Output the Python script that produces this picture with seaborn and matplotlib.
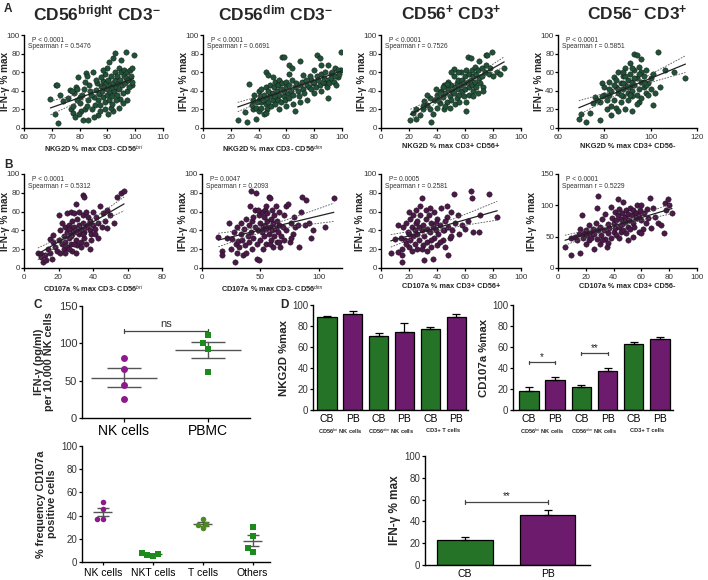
import numpy as np
import pandas as pd
import matplotlib
matplotlib.use("Agg")
import matplotlib.pyplot as plt
import matplotlib.transforms as mtransforms
import seaborn as sns

W, H = 708, 580
GREEN = "#17801a"
PURPLE = "#7a0f7a"
DOT_A = "#1f5237"
DOT_B = "#4c1749"

# ---- Panel A: NKG2D % max vs IFN-g % max (x, y) ----
a_bri = [(69.5,31),(71,15),(71.4,46.5),(72,46.5),(72.3,5.5),(72.9,36),(73.9,29),(76.7,41),(77,20),(77.7,24),
         (77.5,16),(78.7,44),(79.5,55),(80,33),(82,49),(82.3,59),(82.8,56),(81.3,9),(83,9),(83.7,40),(85,33),
         (85.5,25),(86.7,14),(87.3,18),(87.8,45),(88.4,51),(89.3,58),(89.8,65),(90.4,71),(92,75),(92.8,81),
         (95,73),(96.7,82),(99.4,79),(97,40),(99,46.5),(94.6,31),(92,18),(91.2,22),(78,38),(79,30),(80,27),
         (81,36),(80.5,18),(79.8,15),(78.2,12),(76,32),(77.3,40),(79,42),(81.5,42),(83,30),(84,36),(84.5,20),
         (85.8,41),(86.2,48),(86.5,30),(87,37),(87.5,25),(88,40),(88.3,33),(88.8,44),(89,28),(89.5,48),
         (89.7,36),(90,42),(90.2,52),(90.5,30),(90.8,46),(91,39),(91.3,56),(91.5,44),(91.8,34),(92.1,48),
         (92.4,40),(92.6,60),(92.9,52),(93.1,44),(93.4,36),(93.6,56),(93.9,48),(94.1,64),(94.3,42),(94.6,52),
         (94.9,60),(95.2,46),(95.5,38),(95.8,56),(96,62),(96.3,48),(96.6,54),(96.9,30),(97.2,60),(97.5,52),
         (97.8,44),(98.1,62),(98.4,56),(98.7,50),(99,64),(88.5,62),(89.2,20),(90.1,15),(87.6,55),(86,52),
         (84.8,60),(83.5,46),(82,20),(82.6,24),(85.2,12),(93.2,30),(95.7,27),(91.6,26),(94,22)]
a_dim = [(25,9),(32,6),(30,17),(33,47),(38,10),(36,20),(40,30),(42,28),(45,60),(47,57),(48,38),(52,50),(55,52),
         (57,76),(58,76),(62,68),(64,64),(66,18),(70,72),(72,57),(75,30),(78,52),(80,62),(82,79),(84,75),(85,68),
         (88,48),(90,32),(90,68),(92,58),(95,65),(99,82),(99,62),(97,55),(35,25),(36,30),(37,35),(38,22),(39,28),
         (40,40),(40,18),(41,34),(42,42),(42,22),(43,30),(44,36),(44,15),(45,26),(45,44),(46,32),(46,20),(47,40),
         (47,28),(48,34),(48,46),(49,24),(50,38),(50,30),(51,44),(52,34),(52,26),(53,40),(54,46),(54,30),(55,36),
         (56,42),(56,28),(57,48),(58,34),(58,40),(59,30),(60,44),(60,50),(61,38),(62,32),(62,46),(63,40),(64,52),
         (65,36),(66,44),(67,48),(68,40),(69,34),(70,46),(71,50),(72,42),(73,38),(74,52),(75,46),(76,44),(77,56),
         (78,42),(79,48),(80,50),(81,44),(82,56),(83,52),(84,46),(85,58),(86,50),(87,54),(88,60),(89,44),(90,52),
         (91,48),(92,54),(93,60),(94,50),(95,56),(96,46),(97,62),(98,58),(85,40),(80,38),(62,58),(50,55),(45,16),
         (55,20),(60,24),(70,28),(65,26)]
a_pos = [(21,9),(23,16),(25,10),(25,20),(30,20),(31,29),(33,25),(35,20),(36,6),(37,15),(38,30),(40,22),(40,36),
         (42,27),(43,40),(44,33),(45,20),(45,46),(46,38),(47,28),(48,42),(48,50),(49,34),(50,30),(50,46),(51,40),
         (52,56),(52,38),(53,44),(54,48),(54,32),(55,52),(55,42),(56,36),(57,60),(57,46),(58,40),(58,52),(59,48),
         (60,56),(60,42),(61,18),(61,62),(62,50),(62,76),(63,44),(63,58),(64,75),(64,52),(65,62),(65,46),(66,56),
         (66,40),(67,66),(67,50),(68,58),(68,44),(69,62),(70,54),(70,72),(71,48),(72,65),(72,56),(73,44),(73,40),
         (74,60),(75,78),(76,78),(75,68),(77,58),(78,64),(79,82),(80,56),(83,60),(85,58),(88,64),(55,60),(52,63),
         (50,60),(47,47),(44,44),(42,38),(39,42),(41,30),(46,24),(49,22),(53,26),(56,28),(59,34),(35,32),(33,36),
         (30,24),(28,14),(63,36),(66,34),(69,38),(61,28)]
a_neg = [(69,10),(70,15),(72,6),(74,16),(75,27),(76,33),(78,9),(78,28),(79,48),(80,44),(81,20),(82,36),(82,50),
         (83,14),(83,40),(84,30),(84,55),(85,22),(85,44),(86,38),(86,60),(87,28),(87,48),(88,42),(88,34),(88,56),
         (89,20),(89,46),(89,64),(90,38),(90,52),(90,30),(91,44),(91,58),(91,70),(92,18),(92,50),(92,40),(93,62),
         (93,80),(93,46),(94,36),(94,54),(94,78),(95,42),(95,66),(95,28),(96,50),(96,60),(96,74),(97,44),(97,56),
         (98,38),(98,62),(99,48),(100,54),(100,42),(101,58),(101,25),(102,38),(103,82),(104,44),(106,62),(110,60),
         (115,54),(80,36),(81,30),(83,24),(86,18),(87,36),(84,46),(85,52),(88,48),(90,44),(92,34),(94,26),(96,32),
         (98,46),(86,42),(82,42),(79,34),(77,30),(91,36),(93,54),(97,50),(99,36),(95,58),(89,56),(92,64),(88,60)]

# ---- Panel B: CD107a % max vs IFN-g % max (x, y) ----
b_bri = [(8,16),(10,15),(10,12),(11,6),(12,14),(13,9),(14,20),(15,31),(15,16),(16,10),(17,28),(17,35),(18,22),
         (19,18),(20,56),(20,30),(21,16),(21,40),(22,26),(22,48),(23,34),(23,20),(24,44),(24,28),(25,38),(25,58),
         (25,22),(26,46),(26,32),(27,40),(27,60),(27,26),(28,50),(28,36),(28,18),(29,44),(29,58),(30,30),(30,40),
         (30,68),(31,52),(31,24),(32,46),(32,36),(32,60),(33,42),(33,28),(34,56),(34,78),(34,48),(35,76),(35,38),
         (35,32),(36,60),(36,44),(37,54),(38,40),(38,50),(39,30),(40,46),(40,60),(41,42),(42,54),(43,48),(44,66),
         (45,44),(46,58),(47,50),(48,43),(48,62),(50,56),(52,48),(54,76),(56,80),(58,82),(24,16),(26,20),(30,16),
         (33,22),(36,26),(38,20),(27,34),(31,38),(29,26),(26,42),(34,36),(37,46),(39,36),(41,36),(43,32)]
b_dim = [(14,33),(17,18),(17,14),(21,32),(23,48),(25,20),(26,31),(27,38),(28,6),(29,26),(30,16),(30,44),(31,29),
         (32,22),(33,48),(33,36),(34,30),(35,14),(36,42),(37,24),(38,52),(38,16),(39,34),(40,46),(40,28),(41,66),
         (42,38),(42,82),(43,50),(43,20),(44,32),(45,44),(45,62),(46,80),(47,26),(47,10),(48,40),(49,9),(49,56),
         (50,48),(50,30),(51,60),(51,38),(52,44),(52,20),(53,54),(53,34),(54,46),(54,62),(55,26),(55,42),(56,50),
         (56,58),(57,36),(57,76),(58,44),(58,74),(59,30),(59,52),(60,40),(60,62),(61,48),(61,22),(62,34),(62,56),
         (63,42),(63,66),(64,28),(64,50),(65,38),(66,46),(66,60),(67,22),(68,34),(69,44),(70,30),(70,56),(72,40),
         (72,66),(74,68),(75,28),(76,48),(78,36),(79,54),(80,44),(82,46),(83,22),(85,60),(86,76),(88,46),(89,72),
         (92,48),(93,32),(95,40),(105,44),(113,75),(76,32),(66,28),(55,66),(48,62),(44,54),(58,26)]
b_pos = [(7,16),(10,31),(12,17),(12,46),(14,32),(15,6),(15,20),(15,14),(16,44),(17,30),(18,48),(19,38),(20,60),
         (20,22),(21,30),(21,52),(22,44),(22,18),(23,56),(23,34),(24,40),(24,26),(25,48),(25,62),(26,36),(26,20),
         (27,44),(27,30),(28,56),(28,66),(29,75),(29,40),(30,46),(30,24),(31,34),(31,9),(32,52),(32,62),(33,28),
         (33,42),(34,56),(35,38),(35,64),(36,22),(36,48),(37,10),(37,44),(38,32),(38,60),(39,40),(40,24),(40,52),
         (41,36),(42,46),(43,64),(44,30),(45,40),(46,22),(47,54),(47,66),(48,14),(48,44),(49,32),(50,60),(51,40),
         (52,79),(53,48),(55,56),(56,36),(58,46),(60,42),(62,50),(64,82),(65,75),(66,38),(70,38),(71,56),(77,79),
         (83,54),(18,26),(20,36),(26,50),(29,20),(33,18),(36,30),(39,48),(42,28),(44,40),(46,50),(50,34)]
b_neg = [(5,34),(9,20),(9,48),(12,50),(14,44),(15,54),(16,24),(16,62),(17,84),(18,48),(19,56),(20,38),(20,60),
         (21,52),(22,44),(22,68),(23,56),(24,48),(25,62),(26,30),(26,54),(27,72),(28,46),(28,96),(29,115),(29,60),
         (30,38),(30,66),(31,52),(32,78),(33,60),(34,46),(34,86),(35,34),(36,70),(36,56),(37,64),(38,98),(38,48),
         (39,80),(40,58),(40,72),(41,90),(41,64),(42,76),(42,52),(43,110),(43,84),(44,66),(44,94),(45,58),(45,78),
         (46,88),(46,70),(47,60),(47,106),(48,82),(48,74),(49,92),(49,56),(50,66),(50,86),(51,76),(52,62),(52,96),
         (53,84),(54,72),(54,92),(55,66),(56,88),(56,80),(57,100),(58,58),(58,84),(59,92),(60,76),(60,100),(61,62),
         (62,88),(63,72),(64,94),(65,80),(66,112),(67,64),(68,96),(70,82),(72,72),(74,68),(76,56),(77,103),(78,92),
         (79,110),(80,100),(82,88),(32,44),(36,40),(44,48),(50,44),(54,50),(60,56)]

# ---- Panel C ----
c_groups = ["NK cells", "PBMC"]
c_nk = [81, 66, 44, 25]
c_pbmc = [111, 100, 93, 61]
f_groups = ["NK cells", "NKT cells", "T cells", "Others"]
f_nk = [52, 46, 37, 37]
f_nkt = [7, 5, 6, 8]
f_t = [37, 33, 29, 32]
f_oth = [30, 22, 9, 12]

# ---- Panel D ----
d_ticks = ["CB", "PB", "CB", "PB", "CB", "PB"]
d_groups = ["CD56$^{bri}$ NK cells", "CD56$^{dim}$ NK cells", "CD3+ T cells"]
nkg2d_mean = [88.3, 91.4, 70.5, 74.6, 77.1, 88.3]
nkg2d_sem = [1.0, 2.9, 2.5, 7.9, 1.9, 3.4]
cd107_mean = [18.4, 28.6, 22.2, 37.5, 62.9, 67.9]
cd107_sem = [3.2, 3.1, 1.3, 2.8, 2.1, 1.9]
ifn_groups = ["CB", "PB"]
ifn_mean = [23.2, 45.7]
ifn_sem = [2.1, 4.6]

sns.set_theme(style="ticks")
plt.rcParams["font.family"] = ["Liberation Sans", "DejaVu Sans"]
plt.rcParams.update({
    "mathtext.fontset": "custom",
    "mathtext.rm": "Liberation Sans",
    "mathtext.bf": "Liberation Sans:bold",
    "mathtext.it": "Liberation Sans:italic",
    "axes.linewidth": 1.0,
    "axes.edgecolor": "black",
    "xtick.major.size": 2.5, "ytick.major.size": 2.5,
    "xtick.major.width": 0.9, "ytick.major.width": 0.9,
    "xtick.major.pad": 1.5, "ytick.major.pad": 1.0,
    "xtick.color": "black", "ytick.color": "black",
    "xtick.labelcolor": "#333333", "ytick.labelcolor": "#333333",
})

fig = plt.figure(figsize=(W / 100, H / 100), dpi=100)


def box(l, t, r, b):
    # axes from pixel edges of the reference
    return fig.add_axes([l / W, 1 - b / H, (r - l) / W, (b - t) / H])


def scatter_panel(pos, pts, color, xlim, xticks, ylim, yticks, xlabel, ptxt, rtxt, ylab_x=-0.102):
    ax = box(*pos)
    df = pd.DataFrame(pts, columns=["x", "y"])
    sns.scatterplot(data=df, x="x", y="y", ax=ax, color=color, s=15,
                    edgecolor="#111111", linewidth=0.3, zorder=2)
    # linear fit with 95% confidence band
    x, y = df["x"].values, df["y"].values
    n = len(x)
    slope, icpt = np.polyfit(x, y, 1)
    xs = np.linspace(x.min(), x.max(), 60)
    fit = icpt + slope * xs
    s = np.sqrt(((y - (icpt + slope * x)) ** 2).sum() / (n - 2))
    se = s * np.sqrt(1 / n + (xs - x.mean()) ** 2 / ((x - x.mean()) ** 2).sum())
    ax.plot(xs, fit, color="#222222", lw=0.9, zorder=3)
    ax.plot(xs, fit + 1.97 * se, color="#555555", lw=0.6, ls=(0, (2, 1.5)), zorder=3)
    ax.plot(xs, fit - 1.97 * se, color="#555555", lw=0.6, ls=(0, (2, 1.5)), zorder=3)
    ax.set_xlim(*xlim)
    ax.set_ylim(*ylim)
    ax.set_xticks(xticks)
    ax.set_yticks(yticks)
    ax.tick_params(labelsize=5.8)
    ax.tick_params(axis="y", length=2, pad=0.8)
    ax.set_xlabel(xlabel, fontsize=5.3, fontweight="bold", labelpad=2)
    ax.set_ylabel("IFN-γ % max", fontsize=7.2, fontweight="bold")
    ax.yaxis.set_label_coords(ylab_x, 0.5)
    ax.text(0.06, 0.925, ptxt, transform=ax.transAxes, fontsize=4.8, color="#333333")
    ax.text(0.03, 0.855, rtxt, transform=ax.transAxes, fontsize=4.8, color="#333333")
    sns.despine(ax=ax)
    return ax


# Row A
scatter_panel((24, 35, 163, 128), a_bri, DOT_A, (60, 110), range(60, 111, 10), (0, 100), range(0, 101, 20),
              "NKG2D % max CD3- CD56$^{bri}$", "P < 0.0001", "Spearman r = 0.5476")
scatter_panel((203, 35, 342, 128), a_dim, DOT_A, (0, 100), range(0, 101, 20), (0, 100), range(0, 101, 20),
              "NKG2D % max CD3- CD56$^{dim}$", "P < 0.0001", "Spearman r = 0.6691")
scatter_panel((381, 35, 521, 128), a_pos, DOT_A, (0, 100), range(0, 101, 20), (0, 100), range(0, 101, 20),
              "NKG2D % max CD3+ CD56+", "P < 0.0001", "Spearman r = 0.7526")
scatter_panel((558, 35, 697, 128), a_neg, DOT_A, (60, 120), range(60, 121, 20), (0, 100), range(0, 101, 20),
              "NKG2D % max CD3+ CD56-", "P < 0.0001", "Spearman r = 0.5851")

# Row B
scatter_panel((24, 174, 162, 268), b_bri, DOT_B, (0, 80), range(0, 81, 20), (0, 100), range(0, 101, 20),
              "CD107a % max CD3- CD56$^{bri}$", "P < 0.0001", "Spearman r = 0.5312")
scatter_panel((202, 174, 342, 268), b_dim, DOT_B, (0, 120), [0, 50, 100], (0, 100), range(0, 101, 20),
              "CD107a % max CD3- CD56$^{dim}$", "P= 0.0047", "Spearman r = 0.2093")
scatter_panel((381, 174, 521, 268), b_pos, DOT_B, (0, 100), range(0, 101, 20), (0, 100), range(0, 101, 20),
              "CD107a % max CD3+ CD56+", "P= 0.0005", "Spearman r = 0.2581", ylab_x=-0.115)
scatter_panel((558, 174, 697, 268), b_neg, DOT_B, (0, 100), range(0, 101, 20), (0, 150), [0, 50, 100, 150],
              "CD107a % max CD3+ CD56-", "P < 0.0001", "Spearman r = 0.5229", ylab_x=-0.15)

# Column titles
titles = [(97, "CD56$^{\\mathbf{bright}}$ CD3$^{\\mathbf{-}}$"), (275, "CD56$^{\\mathbf{dim}}$ CD3$^{\\mathbf{-}}$"),
          (451, "CD56$^{\\mathbf{+}}$ CD3$^{\\mathbf{+}}$"), (637, "CD56$^{\\mathbf{-}}$ CD3$^{\\mathbf{+}}$")]
for xp, t in titles:
    fig.text(xp / W, 1 - 13 / H, t, fontsize=12.5, fontweight="bold", ha="center", va="center")

for lab, xp, yp in [("A", 4, 9), ("B", 4, 165), ("C", 34, 305), ("D", 280, 305)]:
    fig.text(xp / W, 1 - yp / H, lab, fontsize=8.5, fontweight="bold", ha="left", va="center")


def dot_panel(ax, groups, values, markers, colors, size, half, cap):
    rows = []
    for g, vals in zip(groups, values):
        for v in vals:
            rows.append((g, v))
    df = pd.DataFrame(rows, columns=["group", "value"])
    for g, m, c in zip(groups, markers, colors):
        sns.swarmplot(data=df[df["group"] == g], x="group", y="value", order=groups, ax=ax,
                      color=c, marker=m, size=size, linewidth=0, zorder=3)
    for i, vals in enumerate(values):
        mean = np.mean(vals)
        sem = np.std(vals, ddof=1) / np.sqrt(len(vals))
        ax.hlines(mean, i - half, i + half, color="#555555", lw=1.0, zorder=2)
        ax.errorbar(i, mean, yerr=sem, fmt="none", ecolor="#555555", elinewidth=1.0,
                    capsize=cap, capthick=1.0, zorder=2)
    ax.set_xlabel("")
    sns.despine(ax=ax)


# Panel C top
ax = box(82, 306, 250, 418)
dot_panel(ax, c_groups, [c_nk, c_pbmc], ["o", "s"], ["#8c1a8c", "#1c8a1c"], 5, 0.39, 12)
ax.set_xlim(-0.5, 1.5)
ax.set_ylim(0, 150)
ax.set_yticks([0, 50, 100, 150])
ax.tick_params(axis="y", labelsize=8)
ax.tick_params(axis="x", labelsize=10, length=3, labelcolor="black")
ax.set_ylabel("IFN-γ (pg/ml)\nper 10,000 NK cells", fontsize=7.8, fontweight="bold", labelpad=3,
              linespacing=1.1)
ax.plot([0, 1], [117, 117], color="#444444", lw=0.9)
ax.plot([0, 0], [114.5, 119.5], color="#444444", lw=0.9)
ax.plot([1, 1], [114.5, 119.5], color="#444444", lw=0.9)
ax.text(0.5, 119, "ns", ha="center", va="bottom", fontsize=8, color="#333333")

# Panel C bottom
ax = box(82, 446, 270, 562)
dot_panel(ax, f_groups, [f_nk, f_nkt, f_t, f_oth], ["o", "s", "o", "s"],
          ["#8c1a8c", "#1c8a1c", "#4e8a24", "#1c8a1c"], 4, 0.19, 4)
ax.set_xlim(-0.42, 3.35)
ax.set_ylim(0, 100)
ax.set_yticks(range(0, 101, 20))
ax.tick_params(axis="y", labelsize=7)
ax.tick_params(axis="x", labelsize=7.5, labelcolor="black")
ax.set_ylabel("% frequency CD107a\npositive cells", fontsize=7.8, fontweight="bold", labelpad=3,
              linespacing=1.1)


def bar_panel(ax, ticks, means, sems, colors, width):
    keys = [f"{t}{i}" for i, t in enumerate(ticks)]
    df = pd.DataFrame({"key": keys, "value": means})
    sns.barplot(data=df, x="key", y="value", hue="key", palette=colors, order=keys,
                width=width, edgecolor="black", linewidth=0.9, legend=False, ax=ax, zorder=2)
    ax.errorbar(range(len(means)), means, yerr=[np.zeros(len(sems)), sems], fmt="none",
                ecolor="black", elinewidth=0.9, capsize=3, capthick=0.9, zorder=3)
    ax.set_xticks(range(len(ticks)))
    ax.set_xticklabels(ticks)
    ax.set_xlabel("")
    ax.tick_params(axis="x", length=0, pad=3, labelsize=7.5, labelcolor="black")
    ax.tick_params(axis="y", labelsize=7)
    sns.despine(ax=ax)


def bracket(ax, x1, x2, y, txt, h):
    ax.plot([x1, x2], [y, y], color="#444444", lw=0.9)
    ax.plot([x1, x1], [y - h, y + h], color="#444444", lw=0.9)
    ax.plot([x2, x2], [y - h, y + h], color="#444444", lw=0.9)
    ax.text((x1 + x2) / 2, y + 0.5, txt, ha="center", va="bottom", fontsize=7, color="#222222")


def group_labels(ax):
    trans = mtransforms.blended_transform_factory(ax.transData, ax.transAxes)
    for i, g in enumerate(d_groups):
        ax.text(2 * i + 0.5, -0.2, g, transform=trans, ha="center", va="center",
                fontsize=4.1, fontweight="bold")


bar_colors = [GREEN, PURPLE] * 3

# Panel D NKG2D
ax = box(313, 305, 468, 410)
bar_panel(ax, d_ticks, nkg2d_mean, nkg2d_sem, bar_colors, 0.74)
ax.set_xlim(-0.54, 5.46)
ax.set_ylim(0, 100)
ax.set_yticks(range(0, 101, 20))
ax.set_ylabel("NKG2D %max", fontsize=8.2, fontweight="bold", labelpad=2)
group_labels(ax)

# Panel D CD107a
ax = box(513, 305, 673, 410)
bar_panel(ax, d_ticks, cd107_mean, cd107_sem, bar_colors, 0.74)
ax.set_xlim(-0.61, 5.5)
ax.set_ylim(0, 100)
ax.set_yticks(range(0, 101, 20))
ax.set_ylabel("CD107a %max", fontsize=8.2, fontweight="bold", labelpad=2)
bracket(ax, 0, 1, 45.4, "*", 1.5)
bracket(ax, 2, 3, 54, "**", 1.5)
group_labels(ax)

# Panel D IFN-g
ax = box(425, 456, 590, 565)
bar_panel(ax, ifn_groups, ifn_mean, ifn_sem, [GREEN, PURPLE], 0.67)
ax.set_xlim(-0.48, 1.51)
ax.set_ylim(0, 100)
ax.set_yticks(range(0, 101, 20))
ax.set_ylabel("IFN-γ % max", fontsize=8.5, fontweight="bold", labelpad=2)
bracket(ax, 0, 1, 57.9, "**", 1.5)

fig.savefig("out.png", dpi=100, facecolor="white")
